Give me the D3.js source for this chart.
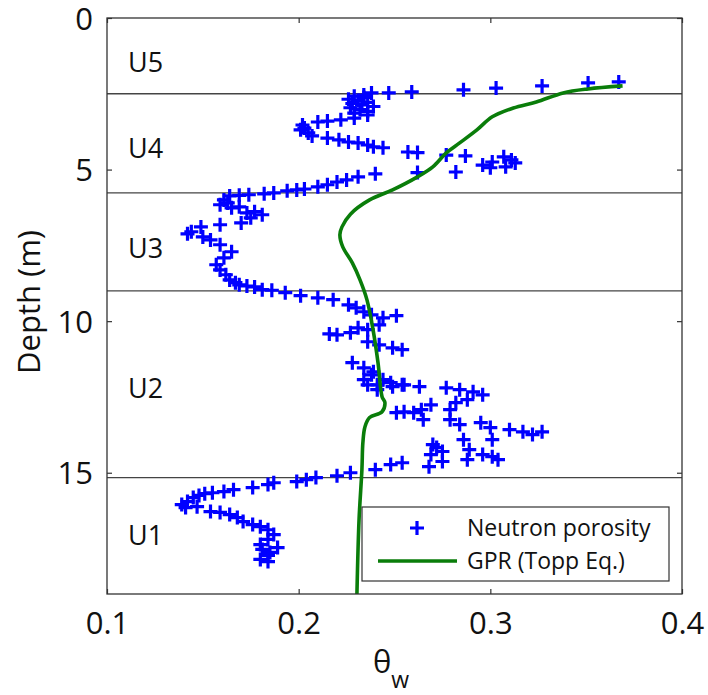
<!DOCTYPE html>
<html>
<head>
<meta charset="utf-8">
<script src="https://cdn.jsdelivr.net/npm/d3@7"></script>
<style>
  body { margin: 0; background: #fff; }
  svg { font-family: "Open Sans", sans-serif; }
</style>
</head>
<body>
<script>
// neutron porosity samples (theta_w, depth m)
const neutronTheta = [
  0.367, 0.351, 0.327, 0.303, 0.286, 0.259, 0.247, 0.238, 0.234,
  0.229, 0.234, 0.226, 0.231, 0.236, 0.228, 0.233, 0.239, 0.227, 0.232, 0.236, 0.229,
  0.236, 0.229, 0.222, 0.215, 0.210, 0.202, 0.203, 0.201, 0.205, 0.207,
  0.215, 0.221, 0.226, 0.231, 0.236, 0.239, 0.244, 0.257, 0.262, 0.277, 0.287,
  0.296, 0.301, 0.307, 0.311, 0.313, 0.308, 0.300, 0.282, 0.262,
  0.240, 0.231, 0.225, 0.220, 0.215, 0.210, 0.203, 0.199, 0.194, 0.187, 0.182,
  0.174, 0.169, 0.164, 0.161, 0.159, 0.163, 0.165, 0.169, 0.173, 0.177, 0.181,
  0.175, 0.170, 0.159, 0.149, 0.144, 0.142, 0.150, 0.154, 0.159, 0.165, 0.161,
  0.157, 0.159, 0.162, 0.164, 0.167, 0.169, 0.173, 0.177, 0.181, 0.186, 0.193,
  0.201, 0.210, 0.218, 0.226, 0.230, 0.234, 0.238, 0.244, 0.251,
  0.242, 0.236, 0.231, 0.227, 0.220, 0.216, 0.236, 0.242, 0.249, 0.254,
  0.228, 0.234, 0.239, 0.236, 0.241, 0.244, 0.249, 0.254,
  0.238, 0.234, 0.241, 0.248, 0.255, 0.263, 0.277, 0.284, 0.291, 0.296,
  0.288, 0.282, 0.279, 0.269, 0.264, 0.260, 0.255, 0.251,
  0.265, 0.279, 0.284, 0.295, 0.300, 0.310, 0.317, 0.322, 0.327,
  0.286, 0.301, 0.289, 0.296, 0.301, 0.304, 0.270, 0.272, 0.275, 0.269, 0.275,
  0.268, 0.288, 0.254, 0.248, 0.240, 0.227, 0.220, 0.209, 0.204, 0.199,
  0.187, 0.184, 0.176, 0.166, 0.161, 0.155, 0.151, 0.148, 0.145, 0.142, 0.139,
  0.141, 0.147, 0.154, 0.159, 0.164, 0.168, 0.171, 0.176, 0.180, 0.184, 0.187,
  0.184, 0.180, 0.181, 0.185, 0.189, 0.184, 0.180, 0.184
];
const neutronDepth = [
  2.11, 2.14, 2.24, 2.31, 2.37, 2.44, 2.47, 2.47, 2.54,
  2.58, 2.62, 2.68, 2.72, 2.78, 2.82, 2.87, 2.92, 2.96, 3.02, 3.08, 3.14,
  3.20, 3.30, 3.36, 3.40, 3.43, 3.53, 3.63, 3.69, 3.79, 3.89,
  3.96, 4.02, 4.09, 4.12, 4.19, 4.25, 4.28, 4.42, 4.44, 4.52, 4.55,
  4.85, 4.75, 4.58, 4.68, 4.78, 4.91, 4.94, 5.08, 5.10,
  5.14, 5.24, 5.34, 5.41, 5.50, 5.57, 5.64, 5.67, 5.70, 5.77, 5.80,
  5.83, 5.85, 5.87, 6.00, 6.16, 6.10, 6.26, 6.23, 6.43, 6.39, 6.49,
  6.59, 6.76, 6.82, 6.89, 7.05, 7.12, 7.22, 7.32, 7.48, 7.71, 7.91,
  8.14, 8.31, 8.47, 8.64, 8.73, 8.80, 8.84, 8.87, 8.96, 8.98, 9.06,
  9.16, 9.23, 9.29, 9.46, 9.56, 9.69, 9.79, 9.89, 9.82,
  10.12, 10.28, 10.22, 10.38, 10.45, 10.42, 10.68, 10.78, 10.88, 10.94,
  11.37, 11.54, 11.67, 12.10, 12.26, 11.93, 12.16, 12.10,
  11.77, 11.93, 12.10, 12.03, 12.10, 12.16, 12.20, 12.26, 12.33, 12.43,
  12.59, 12.69, 12.92, 12.76, 12.92, 13.02, 12.99, 13.02,
  13.25, 13.25, 13.41, 13.35, 13.51, 13.58, 13.65, 13.74, 13.65,
  13.91, 13.91, 14.24, 14.40, 14.47, 14.57, 14.07, 14.17, 14.30, 14.40, 14.63,
  14.80, 14.57, 14.67, 14.73, 14.90, 15.00, 15.10, 15.16, 15.23, 15.29,
  15.33, 15.39, 15.49, 15.56, 15.62, 15.66, 15.69, 15.75, 15.82, 15.95, 16.05,
  16.15, 16.12, 16.28, 16.31, 16.38, 16.48, 16.61, 16.71, 16.78, 16.88, 17.04,
  17.20, 17.37, 17.53, 17.63, 17.47, 17.73, 17.86, 17.93
];

// GPR (Topp Eq.) profile
const gprTheta = [0.369, 0.351, 0.338, 0.324, 0.312, 0.301, 0.293, 0.284, 0.277, 0.270,
  0.262, 0.249, 0.237, 0.227, 0.2226, 0.2215, 0.223, 0.228, 0.232, 0.2356,
  0.2388, 0.2414, 0.2435, 0.245, 0.2435, 0.237, 0.2346, 0.2335, 0.233, 0.2315, 0.2304];
const gprDepth = [2.24, 2.34, 2.47, 2.77, 2.97, 3.26, 3.69, 4.12, 4.45, 4.91,
  5.24, 5.67, 6.00, 6.47, 6.89, 7.15, 7.55, 8.08, 8.64, 9.29,
  10.28, 11.37, 12.49, 12.69, 12.99, 13.18, 13.48, 14.01, 14.90, 16.55, 19.0];

// unit boundaries and labels
const unitBounds = [2.5, 5.77, 9.0, 15.16];
const unitNames = ["U5", "U4", "U3", "U2", "U1"];
const unitLabelDepth = [1.78, 4.61, 7.91, 12.53, 17.37];

const xTicks = [0.1, 0.2, 0.3, 0.4];
const yTicks = [0, 5, 10, 15];
const legendNames = ["Neutron porosity", "GPR (Topp Eq.)"];

const W = 708, H = 695;
const L = 107, R = 682, T = 18, B = 594;
const blue = "#0000ff", green = "#0a7d0a";

const x = d3.scaleLinear().domain([0.1, 0.4]).range([L, R]);
const y = d3.scaleLinear().domain([0, 19]).range([T, B]);

const svg = d3.select("body").append("svg")
  .attr("width", W).attr("height", H);

// unit boundary lines
svg.selectAll("line.unit")
  .data(unitBounds)
  .enter().append("line")
  .attr("class", "unit")
  .attr("x1", L).attr("x2", R)
  .attr("y1", d => y(d)).attr("y2", d => y(d))
  .attr("stroke", "#444").attr("stroke-width", 1.4);

// unit labels
svg.selectAll("text.unit")
  .data(unitNames)
  .enter().append("text")
  .attr("class", "unit")
  .attr("x", L + 21)
  .attr("y", (d, i) => y(unitLabelDepth[i]))
  .attr("font-size", 27)
  .attr("fill", "#111")
  .text(d => d);

const plus = "M-7,0H7M0,-7V7";

// neutron points
svg.append("g").selectAll("path")
  .data(neutronTheta)
  .enter().append("path")
  .attr("d", plus)
  .attr("transform", (d, i) => "translate(" + x(d) + "," + y(neutronDepth[i]) + ")")
  .attr("stroke", blue).attr("stroke-width", 3.2).attr("fill", "none");

// gpr line
const line = d3.line()
  .x(d => x(d[0])).y(d => y(d[1]))
  .curve(d3.curveCatmullRom);
svg.append("path")
  .datum(gprTheta.map((t, i) => [t, gprDepth[i]]))
  .attr("d", line)
  .attr("fill", "none")
  .attr("stroke", green).attr("stroke-width", 3.6);

// axes, ticks inward
const yAxis = d3.axisLeft(y).tickValues(yTicks).tickSize(-5).tickPadding(14);
const xAxis = d3.axisBottom(x).tickValues(xTicks).tickSize(-5).tickPadding(18)
  .tickFormat(d3.format(".1f"));

const gy = svg.append("g").attr("transform", "translate(" + L + ",0)").call(yAxis);
const gx = svg.append("g").attr("transform", "translate(0," + B + ")").call(xAxis);
svg.append("g").attr("transform", "translate(" + R + ",0)")
  .call(d3.axisRight(y).tickValues(yTicks).tickSize(-5).tickFormat(""));
svg.append("g").attr("transform", "translate(0," + T + ")")
  .call(d3.axisTop(x).tickValues(xTicks).tickSize(-5).tickFormat(""));

svg.selectAll(".domain").remove();
svg.selectAll(".tick line").attr("stroke", "#333").attr("stroke-width", 1.2);
svg.selectAll(".tick text").attr("font-size", 31).attr("fill", "#111")
  .attr("font-family", "Open Sans, sans-serif");
gx.selectAll(".tick text").attr("dy", "0.71em");
gy.selectAll(".tick text").attr("dy", "0.36em");

// frame
svg.append("rect")
  .attr("x", L).attr("y", T).attr("width", R - L).attr("height", B - T)
  .attr("fill", "none").attr("stroke", "#333").attr("stroke-width", 1.3);

// axis titles
svg.append("text")
  .attr("transform", "translate(40," + ((T + B) / 2 - 4) + ") rotate(-90)")
  .attr("text-anchor", "middle")
  .attr("font-size", 31).attr("fill", "#111")
  .text("Depth (m)");

const xt = svg.append("text")
  .attr("x", 373).attr("y", 673)
  .attr("font-size", 31).attr("fill", "#111");
xt.append("tspan").text("θ");
xt.append("tspan").attr("font-size", 23).attr("dy", 15).text("w");

// legend
const lg = svg.append("g").attr("transform", "translate(362,507)");
lg.append("rect")
  .attr("width", 307).attr("height", 74)
  .attr("fill", "#fff").attr("stroke", "#333").attr("stroke-width", 1.2);
lg.append("path")
  .attr("d", plus).attr("transform", "translate(55,21)")
  .attr("stroke", blue).attr("stroke-width", 3.2).attr("fill", "none");
lg.append("line")
  .attr("x1", 16).attr("x2", 95).attr("y1", 54).attr("y2", 54)
  .attr("stroke", green).attr("stroke-width", 3.6);
lg.selectAll("text")
  .data(legendNames)
  .enter().append("text")
  .attr("x", 105)
  .attr("y", (d, i) => 29 + i * 33)
  .attr("font-size", 23).attr("fill", "#111")
  .text(d => d);
</script>
</body>
</html>
